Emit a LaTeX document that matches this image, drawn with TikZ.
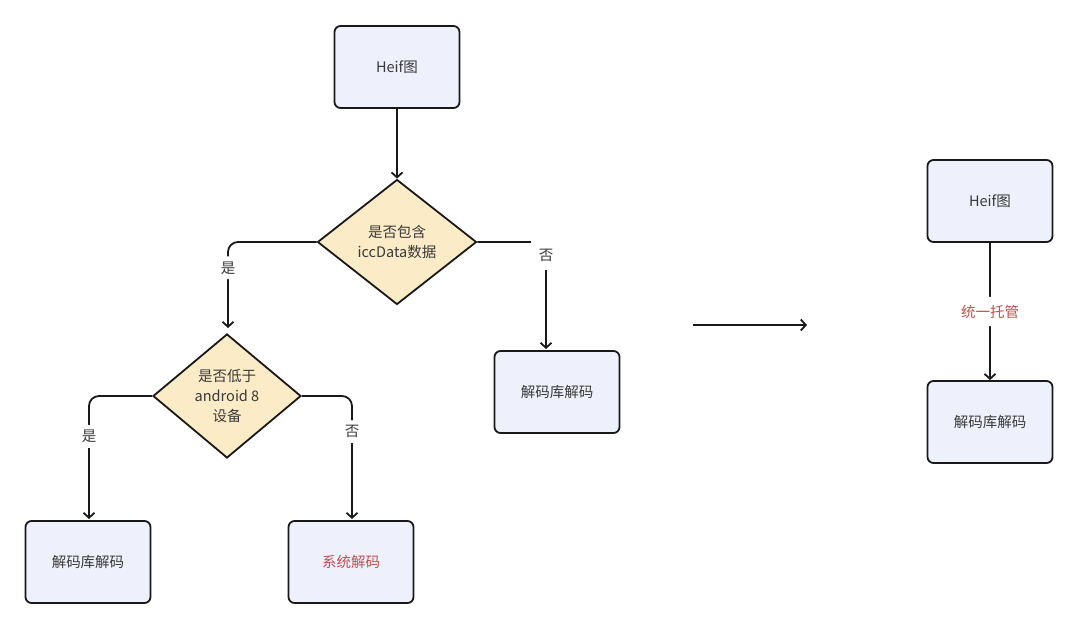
\documentclass[tikz,border=0pt]{standalone}
\usepackage{fontspec}
\setmainfont{Noto Sans CJK SC}
\usetikzlibrary{shapes.geometric,arrows.meta}
\definecolor{boxfill}{HTML}{EEF0FB}
\definecolor{diafill}{HTML}{FBEBC6}
\definecolor{txt}{HTML}{3A3A3A}
\definecolor{redtxt}{HTML}{C0504D}
\tikzset{
  box/.style={draw=black!90, line width=1.8pt, fill=boxfill, rounded corners=6pt,
    minimum width=125pt, minimum height=82pt, text=txt, font=\fontsize{14.5}{18}\selectfont},
  dia/.style={draw=black!90, line width=1.8pt, fill=diafill, diamond, aspect=1.25,
    inner sep=0pt, text=txt, align=center, font=\fontsize{14.5}{20}\selectfont},
  conn/.style={line width=1.8pt, draw=black!90, rounded corners=10pt},
  arr/.style={conn, -{Straight Barb[length=5pt,width=11pt,line width=1.8pt]}},
  lab/.style={fill=white, inner sep=5pt, text=txt, font=\fontsize{14.5}{16}\selectfont},
}
\begin{document}
\begin{tikzpicture}[x=1pt,y=-1pt]
\useasboundingbox[fill=white] (0,0) rectangle (1080,632);
\node[box] (heif) at (397,67) {Heif图};
\node[dia, minimum width=159pt, minimum height=125pt] (d1) at (397,242) {是否包含\\iccData数据};
\node[box] (lib1) at (557,392) {解码库解码};
\node[dia, minimum width=148pt, minimum height=124pt] (d2) at (227,396) {是否低于\\android 8\\设备};
\node[box] (lib2) at (88,562) {解码库解码};
\node[box, text=redtxt] (sys) at (351,562) {系统解码};
\node[box] (heif2) at (990,201) {Heif图};
\node[box] (lib3) at (990,422) {解码库解码};

\coordinate (a1) at (693,325);
\coordinate (a2) at (807,325);

\draw[arr] (heif.south) -- (d1.north);
\draw[arr] (d1.west) -- (228,242) -- (228,328) node[lab, pos=0.3] {是};
\draw[arr] (d1.east) -- (546,242) -- (546,349);
\node[lab, minimum width=30pt, minimum height=30pt] (no1) at (546,255) {否};
\draw[arr] (d2.west) -- (89,396) -- (89,519) node[lab, pos=0.33] {是};
\draw[arr] (d2.east) -- (352,396) -- (352,519) node[lab, pos=0.29] {否};
\draw[arr] (a1) -- (a2);
\draw[arr] (heif2.south) -- (lib3.north) node[lab, midway, text=redtxt, inner ysep=8pt] {统一托管};
\end{tikzpicture}
\end{document}
